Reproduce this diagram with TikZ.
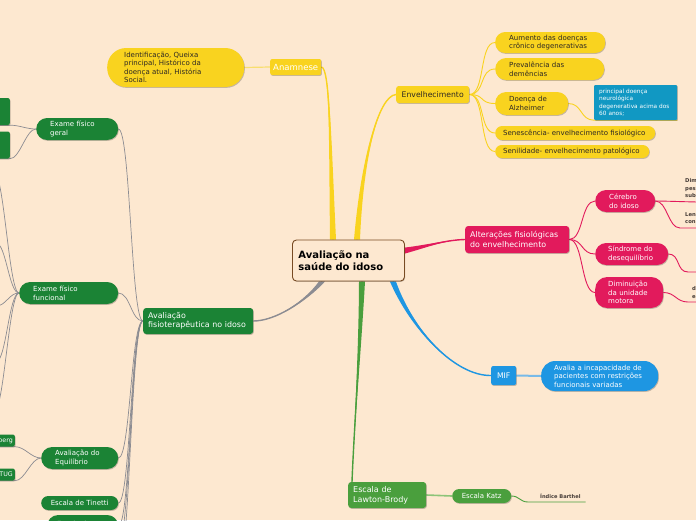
\documentclass[tikz,border=0pt]{standalone}
\usepackage{fontspec}
\setmainfont{DejaVu Sans}
\usetikzlibrary{shadows,calc}
\pgfdeclarelayer{back}
\pgfsetlayers{back,main}
\definecolor{bgc}{RGB}{253,232,208}
\definecolor{yel}{RGB}{249,211,31}
\definecolor{yellt}{RGB}{248,222,110}
\definecolor{pnk}{RGB}{226,26,92}
\definecolor{blu}{RGB}{30,150,226}
\definecolor{blult}{RGB}{120,186,232}
\definecolor{notec}{RGB}{17,152,195}
\definecolor{grn}{RGB}{74,159,61}
\definecolor{grnlt}{RGB}{140,196,120}
\definecolor{dgrn}{RGB}{27,131,53}
\definecolor{gry}{RGB}{140,140,146}
\definecolor{brd}{RGB}{120,75,35}
\definecolor{txt}{RGB}{45,40,35}
\definecolor{txtb}{RGB}{70,60,55}
\newcommand\fsz[2]{\fontsize{#1}{#2}\selectfont}
\newcommand\mmbranch[6]{%
  \fill[#1] ([#6=-3pt]#2) .. controls ([#6=-1.2pt]#3) and (#4) .. (#5) .. controls (#4) and ([#6=1.2pt]#3) .. ([#6=3pt]#2) -- cycle;
  \draw[#1,line width=1.4pt] (#2) .. controls (#3) and (#4) .. (#5);}
\begin{document}
\begin{tikzpicture}[x=1pt,y=-1pt,
  shade/.style={drop shadow={shadow xshift=0.7pt,shadow yshift=-0.9pt,opacity=0.22,fill=black}},
  box/.style={anchor=west,inner ysep=0pt,align=left,shade,font=\fsz{7}{8.6}},
  ybox/.style={box,fill=yel,text=txt},
  pbox/.style={box,fill=pnk,text=white},
  gbox/.style={box,fill=dgrn,text=white},
  lbox/.style={box,fill=grn,text=white},
  ylink/.style={draw=yel,line width=0.9pt},
  plink/.style={draw=pnk,line width=0.9pt},
  glink/.style={draw=gry,line width=0.7pt},
  edgetxt/.style={anchor=west,inner sep=0pt,align=left,font=\bfseries\fsz{5.3}{7.5},text=txtb}
]
\begin{pgfonlayer}{back}
\fill[bgc] (0,0) rectangle (696,520);
\end{pgfonlayer}
\useasboundingbox (0,0) rectangle (696,520);

% ---------- nodes ----------
\node[draw=brd,line width=0.9pt,fill=bgc,rounded corners=4pt,anchor=west,minimum height=41pt,text width=100pt,inner xsep=6pt,inner ysep=0pt,align=left,font=\bfseries\fsz{10}{12.5},shade] (root) at (292,260.5) {Avaliação na\\saúde do idoso};

% yellow branch
\node[ybox,text=white,align=center,minimum width=51pt,minimum height=16pt,inner xsep=0pt,rounded corners=2pt,font=\fsz{8.5}{10}] (ana) at (270,67) {Anamnese};
\node[ybox,minimum height=39pt,text width=103pt,inner xsep=17pt,rounded corners=19pt,font=\fsz{7}{8.4}] (ident) at (107,67.5) {Identificação, Queixa\\principal, Histórico da\\doença atual, História\\Social.};
\node[ybox,align=center,minimum width=73pt,minimum height=17pt,inner xsep=0pt,rounded corners=2.5pt,font=\fsz{7.7}{9}] (env) at (396,94.5) {Envelhecimento};
\node[ybox,minimum height=21pt,text width=82pt,inner xsep=14pt,rounded corners=10pt] (aum) at (495,42.5) {Aumento das doenças\\crônico degenerativas};
\node[ybox,minimum height=22pt,text width=81pt,inner xsep=14pt,rounded corners=11pt] (prev) at (495,69) {Prevalência das\\demências};
\node[ybox,minimum height=23pt,text width=45pt,inner xsep=14pt,rounded corners=11pt] (alz) at (495,103.5) {Doença de\\Alzheimer};
\node[box,fill=notec,text=white,minimum height=35pt,text width=73pt,inner xsep=5pt,rounded corners=1pt,font=\fsz{5.8}{7.5}] (note) at (594,102.5) {principal doença\\neurológica\\degenerativa acima dos\\60 anos;};
\node[ybox,minimum height=14pt,text width=144pt,inner xsep=8pt,rounded corners=7pt] (sen) at (495,133) {Senescência- envelhecimento fisiológico};
\node[ybox,minimum height=13pt,text width=138pt,inner xsep=8pt,rounded corners=6.5pt] (senil) at (495,151.5) {Senilidade- envelhecimento patológico};

% pink branch
\node[pbox,minimum height=27pt,text width=94pt,inner xsep=5pt,rounded corners=3pt,font=\fsz{7.9}{9.5}] (alt) at (465,239.5) {Alterações fisiológicas\\do envelhecimento};
\node[pbox,minimum height=22pt,text width=32pt,inner xsep=14pt,rounded corners=11pt] (cer) at (595,201) {Cérebro\\do idoso};
\node[pbox,minimum height=22pt,text width=47pt,inner xsep=13pt,rounded corners=11pt] (sin) at (595,254) {Síndrome do\\desequilíbrio};
\node[pbox,minimum height=31pt,text width=42pt,inner xsep=13pt,rounded corners=12pt] (dim) at (595,292.5) {Diminuição\\da unidade\\motora};
\node[edgetxt] (t1) at (685,188.3) {Dim\\pes\\sub};
\node[edgetxt] (t2) at (685,218) {Len\\con};
\node[edgetxt] (t3) at (692,292.3) {d\\e};

% blue branch
\node[box,fill=blu,text=white,align=center,minimum width=25pt,minimum height=19pt,inner xsep=0pt,rounded corners=2pt,font=\fsz{7.7}{9}] (mif) at (491,375.5) {MIF};
\node[box,fill=blu,text=white,minimum height=30pt,text width=91pt,inner xsep=13pt,rounded corners=14pt] (aval) at (541,376) {Avalia a incapacidade de\\pacientes com restrições\\funcionais variadas};

% green branch
\node[lbox,minimum height=26pt,text width=68pt,inner xsep=5pt,rounded corners=3pt,font=\fsz{8}{10}] (law) at (348,495) {Escala de\\Lawton-Brody};
\node[lbox,align=center,minimum width=59pt,minimum height=14pt,inner xsep=0pt,rounded corners=7pt] (katz) at (452,496) {Escala Katz};
\node[anchor=south west,inner sep=0pt,font=\bfseries\fsz{5.1}{6},text=txtb] (bar) at (540,498.5) {Índice Barthel};

% dark green branch
\node[gbox,minimum height=26pt,text width=100pt,inner xsep=5pt,rounded corners=3pt,font=\fsz{7.9}{9.3}] (avf) at (143,321) {Avaliação\\fisioterapêutica no idoso};
\node[gbox,minimum height=22pt,text width=54pt,inner xsep=14pt,rounded corners=11pt] (ger) at (36,129) {Exame físico\\geral};
\node[gbox,minimum height=22pt,text width=71pt,inner xsep=14pt,rounded corners=11pt] (fun) at (19,293) {Exame físico\\funcional};
\node[gbox,minimum height=22pt,text width=49pt,inner xsep=14pt,rounded corners=11pt] (equ) at (41,458) {Avaliação do\\Equilíbrio};
\node[gbox,align=center,minimum width=77pt,minimum height=14pt,inner xsep=0pt,rounded corners=7pt] (tin) at (41,503) {Escala de Tinetti};
\node[gbox,minimum height=22pt,text width=51pt,inner xsep=10pt,rounded corners=11pt] (esc) at (47,526) {\raisebox{3.5pt}{Escala de}};
\node[gbox,anchor=east,minimum width=30pt,minimum height=27pt,inner sep=0pt,rounded corners=2pt] (g1) at (10,111.5) {};
\node[gbox,anchor=east,minimum width=30pt,minimum height=27pt,inner sep=0pt,rounded corners=2pt] (g2) at (10,145) {};
\node[gbox,anchor=east,minimum height=12pt,inner xsep=2pt,rounded corners=2pt,font=\fsz{6.3}{7}] (berg) at (15,440.5) {berg};
\node[gbox,anchor=east,minimum height=12pt,inner xsep=2pt,rounded corners=2pt,font=\fsz{6.3}{7}] (tug) at (15,474.5) {TUG};

% branch start / end points
\coordinate (sana) at ([xshift=41pt]root.north west);
\coordinate (senv) at ([xshift=65pt]root.north west);
\coordinate (salt) at ([yshift=-11pt]root.north east);
\coordinate (smif) at ([xshift=-12pt]root.south east);
\coordinate (slaw) at ([xshift=70pt]root.south west);
\coordinate (savf) at ([xshift=30pt]root.south west);
\coordinate (elaw) at ([xshift=4pt]law.north west);

\coordinate (fa) at (-6,172);
\coordinate (fb) at (-4,243);
\coordinate (fc) at (-4,306);
\coordinate (fd) at (-4,362);
\coordinate (fe) at (-6,412);
\coordinate (ea) at (118,545);
\coordinate (eb) at (118,570);
\coordinate (pa) at (700,202);
\coordinate (pb) at (700,228);
\coordinate (pc) at (700,272);
\coordinate (pd) at (700,302);

% ---------- connectors ----------
\begin{pgfonlayer}{back}
\mmbranch{yel}{sana}{330,140}{330,68}{ana.east}{xshift}
\mmbranch{yel}{senv}{362,160}{378,96}{env.west}{xshift}
\mmbranch{pnk}{salt}{428,246}{445,240}{alt.west}{yshift}
\mmbranch{blu}{smif}{412,330}{455,376}{mif.west}{xshift}
\mmbranch{grn}{slaw}{360,350}{354,430}{elaw}{xshift}
\mmbranch{gry}{savf}{305,302}{275,321}{avf.east}{xshift}

\draw[yellt,line width=1.2pt] (ana.west) -- (ident.east);
\foreach \t in {aum,prev,alz,sen,senil}
  \draw[ylink] (env.east) to[out=0,in=180,distance=16pt] (\t.west);
\draw[ylink] (alz.east) to[out=0,in=180,distance=14pt] (note.south west) -- (note.south east);

\draw[plink] (alt.east) to[out=0,in=180,distance=14pt] (cer.west);
\draw[plink] (alt.east) to[out=0,in=180,distance=14pt] (sin.west);
\draw[plink] (alt.east) to[out=0,in=180,distance=14pt] (dim.west);
\draw[plink] (cer.east) to[out=0,in=180,distance=10pt] (pa);
\draw[plink] (cer.east) to[out=0,in=180,distance=12pt] ([xshift=-20pt]pb) -- (pb);
\draw[plink] (sin.east) to[out=0,in=180,distance=12pt] ([xshift=-12pt]pc) -- (pc);
\draw[plink] (dim.east) to[out=0,in=180,distance=12pt] ([xshift=-12pt]pd) -- (pd);

\draw[blult,line width=2pt] (mif.east) -- (aval.west);
\draw[grnlt,line width=1.6pt] (law.east) -- (katz.west);
\draw[grn,line width=0.9pt] (katz.east) to[out=0,in=180,distance=8pt] ([xshift=-12pt,yshift=-3.5pt]bar.south west) -- ([xshift=5pt,yshift=-3.5pt]bar.south east);

\foreach \t in {ger,fun,equ,tin,esc,ea,eb}
  \draw[glink] (avf.west) to[out=180,in=0,distance=12pt] (\t.east);
\foreach \t in {fa,fb,fc,fd,fe}
  \draw[glink] (fun.west) to[out=180,in=0,distance=10pt] (\t);
\draw[glink] (ger.west) to[out=180,in=0,distance=10pt] (g1.south east) -- (g1.south west);
\draw[glink] (ger.west) to[out=180,in=0,distance=10pt] (g2.south east) -- (g2.south west);
\draw[glink] (equ.west) to[out=180,in=0,distance=10pt] (berg.south east) -- (berg.south west);
\draw[glink] (equ.west) to[out=180,in=0,distance=10pt] (tug.south east) -- (tug.south west);
\end{pgfonlayer}
\end{tikzpicture}
\end{document}
